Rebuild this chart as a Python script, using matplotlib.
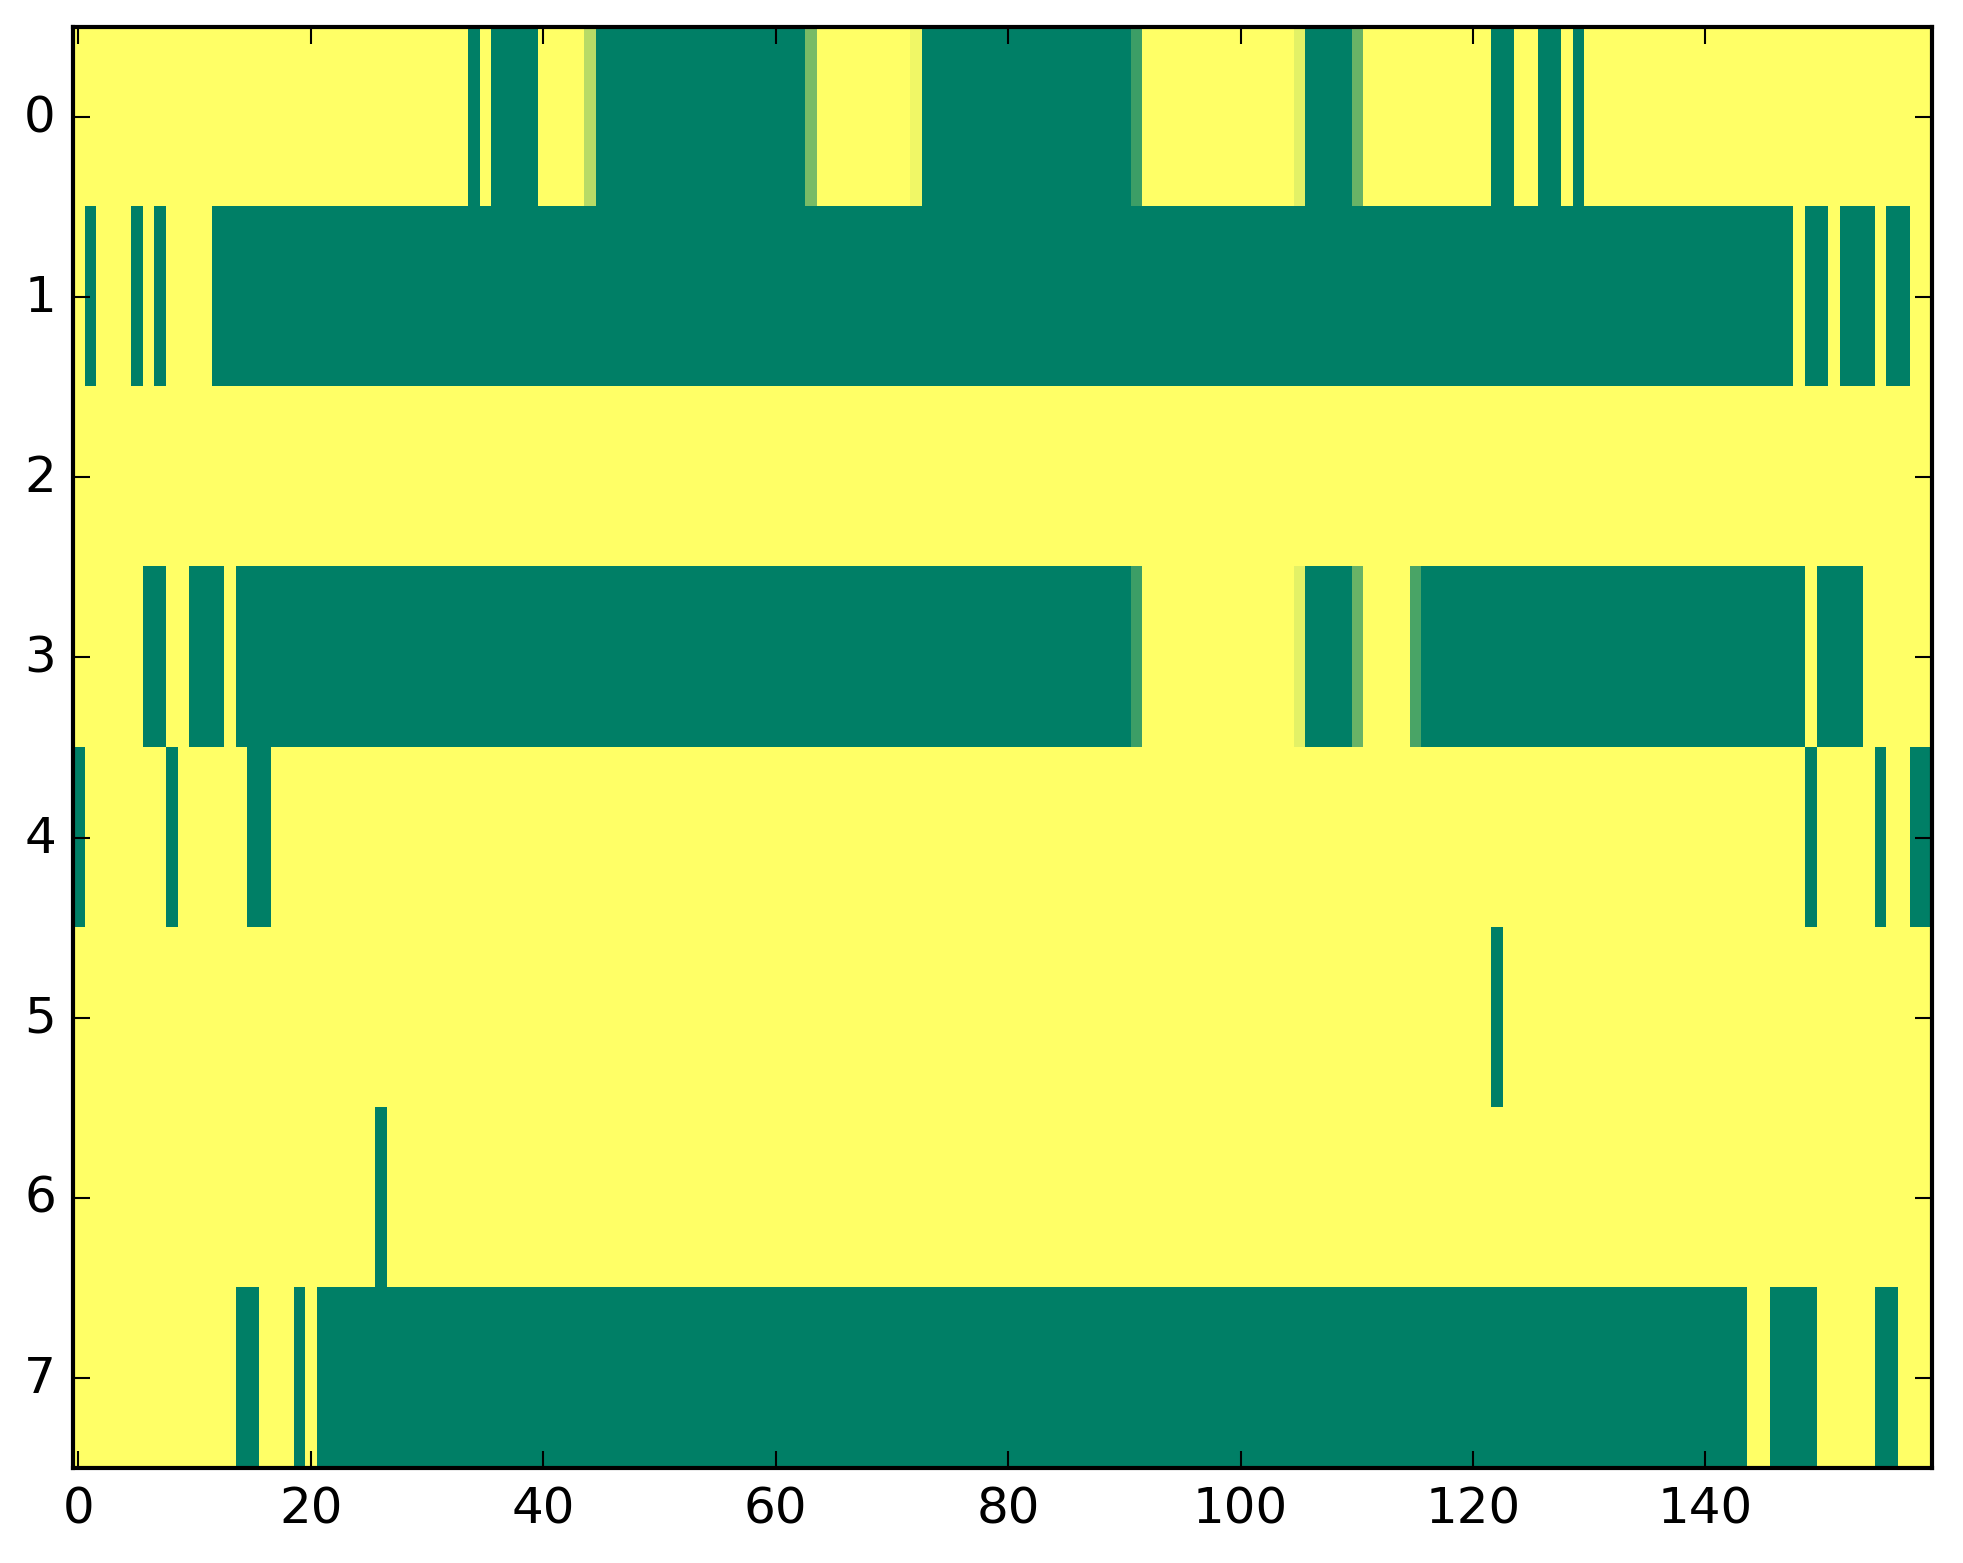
import numpy as np
import matplotlib
matplotlib.use('Agg')
import matplotlib.pyplot as plt

plt.style.use('classic')

# cell levels: G = 0 (dark green) ... Y = 1 (yellow), letters in between
levels = {'G': 0.0, 'a': 0.24, 'b': 0.29, 'c': 0.41, 'd': 0.47,
          'e': 0.72, 'f': 0.89, 'g': 0.94, 'Y': 1.0}

# one string per row, 160 columns, grouped by 10
row0 = ("YYYYYYYYYY YYYYYYYYYY YYYYYYYYYY YYYYGYGGGG YYYYeGGGGG GGGGGGGGGG "
        "GGGdYYYYYY YYgGGGGGGG GGGGGGGGGG GaYYYYYYYY YYYYYfGGGG cYYYYYYYYY "
        "YYGGYYGGYG YYYYYYYYYY YYYYYYYYYY YYYYYYYYYY")
row1 = ("YGYYYGYGYY YYGGGGGGGG GGGGGGGGGG GGGGGGGGGG GGGGGGGGGG GGGGGGGGGG "
        "GGGGGGGGGG GGGGGGGGGG GGGGGGGGGG GGGGGGGGGG GGGGGGGGGG GGGGGGGGGG "
        "GGGGGGGGGG GGGGGGGGGG GGGGGGGGYG GYGGGYGGYY")
row2 = ("YYYYYYYYYY YYYYYYYYYY YYYYYYYYYY YYYYYYYYYY YYYYYYYYYY YYYYYYYYYY "
        "YYYYYYYYYY YYYYYYYYYY YYYYYYYYYY YYYYYYYYYY YYYYYYYYYY YYYYYYYYYY "
        "YYYYYYYYYY YYYYYYYYYY YYYYYYYYYY YYYYYYYYYY")
row3 = ("YYYYYYGGYY GGGYGGGGGG GGGGGGGGGG GGGGGGGGGG GGGGGGGGGG GGGGGGGGGG "
        "GGGGGGGGGG GGGGGGGGGG GGGGGGGGGG GaYYYYYYYY YYYYYfGGGG cYYYYbGGGG "
        "GGGGGGGGGG GGGGGGGGGG GGGGGGGGGY GGGGYYYYYY")
row4 = ("GYYYYYYYGY YYYYYGGYYY YYYYYYYYYY YYYYYYYYYY YYYYYYYYYY YYYYYYYYYY "
        "YYYYYYYYYY YYYYYYYYYY YYYYYYYYYY YYYYYYYYYY YYYYYYYYYY YYYYYYYYYY "
        "YYYYYYYYYY YYYYYYYYYY YYYYYYYYYG YYYYYGYYGG")
row5 = ("YYYYYYYYYY YYYYYYYYYY YYYYYYYYYY YYYYYYYYYY YYYYYYYYYY YYYYYYYYYY "
        "YYYYYYYYYY YYYYYYYYYY YYYYYYYYYY YYYYYYYYYY YYYYYYYYYY YYYYYYYYYY "
        "YYGYYYYYYY YYYYYYYYYY YYYYYYYYYY YYYYYYYYYY")
row6 = ("YYYYYYYYYY YYYYYYYYYY YYYYYYGYYY YYYYYYYYYY YYYYYYYYYY YYYYYYYYYY "
        "YYYYYYYYYY YYYYYYYYYY YYYYYYYYYY YYYYYYYYYY YYYYYYYYYY YYYYYYYYYY "
        "YYYYYYYYYY YYYYYYYYYY YYYYYYYYYY YYYYYYYYYY")
row7 = ("YYYYYYYYYY YYYYGGYYYG YGGGGGGGGG GGGGGGGGGG GGGGGGGGGG GGGGGGGGGG "
        "GGGGGGGGGG GGGGGGGGGG GGGGGGGGGG GGGGGGGGGG GGGGGGGGGG GGGGGGGGGG "
        "GGGGGGGGGG GGGGGGGGGG GGGGYYGGGG YYYYYGGYYY")

rows = [row0, row1, row2, row3, row4, row5, row6, row7]
grid = np.array([[levels[ch] for ch in ''.join(r.split())] for r in rows])

fig = plt.figure(figsize=(1963 / 300, 1564 / 300), dpi=300, facecolor='white')
ax = fig.add_axes([0.037, 0.0607, 0.9472, 0.9214])
ax.imshow(grid, cmap='summer', vmin=0, vmax=1,
          interpolation='nearest', aspect='auto')
ax.set_xticks(range(0, 160, 20))
ax.set_yticks(range(8))
ax.set_xlim(-0.5, 159.5)
ax.set_ylim(7.5, -0.5)

fig.savefig('out.png', dpi=300, facecolor='white')
